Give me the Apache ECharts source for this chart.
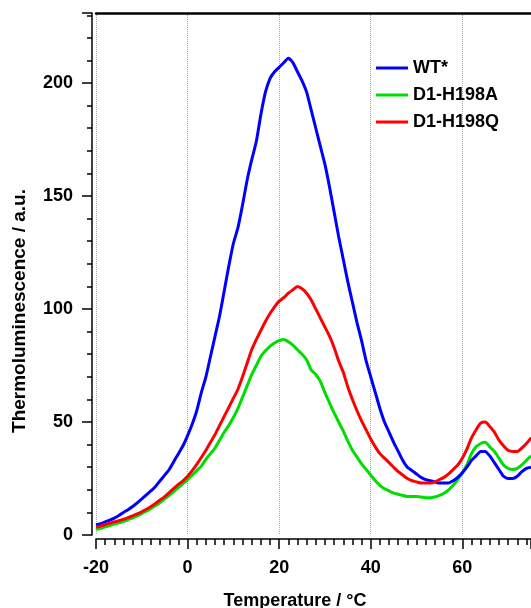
<!DOCTYPE html>
<html>
<head>
<meta charset="utf-8">
<script src="https://cdn.jsdelivr.net/npm/echarts@6/dist/echarts.min.js"></script>
<style>
html, body { margin: 0; padding: 0; background: #fff; }
#chart { width: 531px; height: 608px; }
</style>
</head>
<body>
<div id="chart"></div>
<script>
// temperature (°C), one reading per degree
var temps = [];
for (var t = -20; t <= 75; t++) temps.push(t);

var wt = [4.5, 5, 5.8, 6.6, 7.5, 8.6, 10, 11.2, 12.6, 14.2,
	16, 17.8, 19.5, 21.5, 24, 26.5, 29, 32.5, 36, 39.5,
	44, 49, 55, 63, 70, 79, 88, 97, 108, 119,
	129, 136, 146, 157, 166, 174, 186, 196, 202, 205,
	207, 209, 211, 209, 205, 201, 196, 188, 180, 172,
	164, 154, 143, 132, 122, 112, 103, 94, 86, 77,
	70, 63, 56, 50, 45.5, 41, 37, 33, 30, 28.5,
	27, 25.5, 24.5, 24, 23.5, 23, 23, 23, 24, 25.5,
	27.5, 30, 33, 35, 37, 37, 35, 32, 29, 26,
	25, 25, 26, 28, 29.5, 30];

var h198a = [2.5, 3, 3.6, 4.2, 4.8, 5.4, 6, 6.8, 7.6, 8.5,
	9.5, 10.5, 11.7, 13, 14.4, 16, 17.6, 19.3, 21, 22.7,
	24.5, 26.5, 28.5, 30.5, 33.5, 36, 38.5, 42, 45.5, 48.5,
	52, 56, 61, 66, 71, 75, 79, 81.5, 83.5, 85,
	86, 86.5, 85.5, 84, 82, 80, 77.5, 73, 71, 68,
	63, 58.5, 54, 50, 46, 41.5, 37.5, 34.5, 31.5, 29,
	26.5, 24, 22, 20.5, 19.5, 18.5, 18, 17.5, 17, 17,
	17, 16.8, 16.5, 16.5, 16.8, 17.5, 18.5, 20, 22, 24.5,
	27.5, 31, 36, 39, 40.5, 41, 39, 37, 34, 31,
	29.5, 29, 29.5, 31, 33, 35];

var h198q = [3.5, 4, 4.6, 5.2, 5.8, 6.3, 7, 7.7, 8.5, 9.3,
	10.3, 11.4, 12.6, 14, 15.5, 17, 18.8, 20.6, 22.4, 24,
	26, 28.5, 31.3, 34.3, 37.5, 41, 44.5, 48.5, 52.5, 56.5,
	60.5, 64.5, 70, 76, 82, 86.5, 90.5, 94.5, 98, 101,
	103.5, 105, 107, 108.5, 110, 109, 107, 104, 100, 96,
	92, 88, 83, 77, 72, 65.5, 60, 55, 50.5, 46.5,
	42.5, 39, 36, 34, 32, 30, 28, 26.5, 25, 24,
	23.5, 23, 23, 23, 23.5, 24.5, 25.5, 27, 29, 31,
	34, 38, 43, 46.5, 49.5, 50, 48, 45.5, 42, 39.5,
	37.5, 37, 37, 38.5, 40.5, 43];

var names = ['WT*', 'D1-H198A', 'D1-H198Q'];
var colors = ['#0000ff', '#00dd00', '#ff0000'];

function pairs(ys) {
	return temps.map(function (x, i) { return [x, ys[i]]; });
}

var myChart = echarts.init(document.getElementById('chart'));
var font = 'Liberation Sans, Arial, Helvetica, sans-serif';

var option = {
	animation: false,
	backgroundColor: '#fff',
	grid: { left: 96, right: 0, top: 13, bottom: 73, outerBoundsMode: 'none' },
	legend: {
		orient: 'vertical',
		left: 371,
		top: 54,
		itemWidth: 32,
		itemHeight: 3,
		itemGap: 9,
		icon: 'rect',
		data: names,
		textStyle: { fontFamily: font, fontWeight: 'bold', fontSize: 18, color: '#000' }
	},
	xAxis: [{
		type: 'value',
		min: -20,
		max: 75,
		interval: 20,
		offset: 4,
		name: 'Temperature / °C',
		nameLocation: 'middle',
		nameGap: 53,
		nameTextStyle: { fontFamily: font, fontWeight: 'bold', fontSize: 18, color: '#000', padding: [0, 37, 0, 0] },
		axisLine: { onZero: false, lineStyle: { color: '#000', width: 1.5 } },
		axisTick: { length: 10, lineStyle: { color: '#000', width: 1.5 } },
		minorTick: { show: true, splitNumber: 10, length: 6, lineStyle: { color: '#000', width: 1.5 } },
		axisLabel: { fontFamily: font, fontWeight: 'bold', fontSize: 18, color: '#000', margin: 20, showMaxLabel: false },
		splitLine: { show: true, lineStyle: { color: '#aaa', type: [1, 1], width: 1 } }
	}, {
		type: 'value',
		position: 'top',
		min: -20,
		max: 75,
		axisLine: { show: true, onZero: false, lineStyle: { color: '#000', width: 2.5 } },
		axisTick: { show: false },
		axisLabel: { show: false },
		splitLine: { show: false }
	}],
	yAxis: {
		type: 'value',
		min: 0,
		max: 231,
		interval: 50,
		offset: 4,
		name: 'Thermoluminescence / a.u.',
		nameLocation: 'middle',
		nameGap: 63,
		nameTextStyle: { fontFamily: font, fontWeight: 'bold', fontSize: 19, color: '#000', padding: [0, 74, 0, 0] },
		axisLine: { show: true, onZero: false, lineStyle: { color: '#000', width: 1.5 } },
		axisTick: { length: 10, lineStyle: { color: '#000', width: 1.5 } },
		minorTick: { show: true, splitNumber: 5, length: 5, lineStyle: { color: '#000', width: 1.5 } },
		axisLabel: { fontFamily: font, fontWeight: 'bold', fontSize: 18, color: '#000', margin: 19, showMaxLabel: false },
		splitLine: { show: false }
	},
	series: names.map(function (n, i) {
		return {
			name: n,
			type: 'line',
			xAxisIndex: 0,
			data: pairs([wt, h198a, h198q][i]),
			showSymbol: false,
			smooth: 0.2,
			clip: true,
			color: colors[i],
			lineStyle: { width: 3, color: colors[i] },
			z: i === 0 ? 3 : (i === 2 ? 4 : 2)
		};
	})
};

myChart.setOption(option);
</script>
</body>
</html>
